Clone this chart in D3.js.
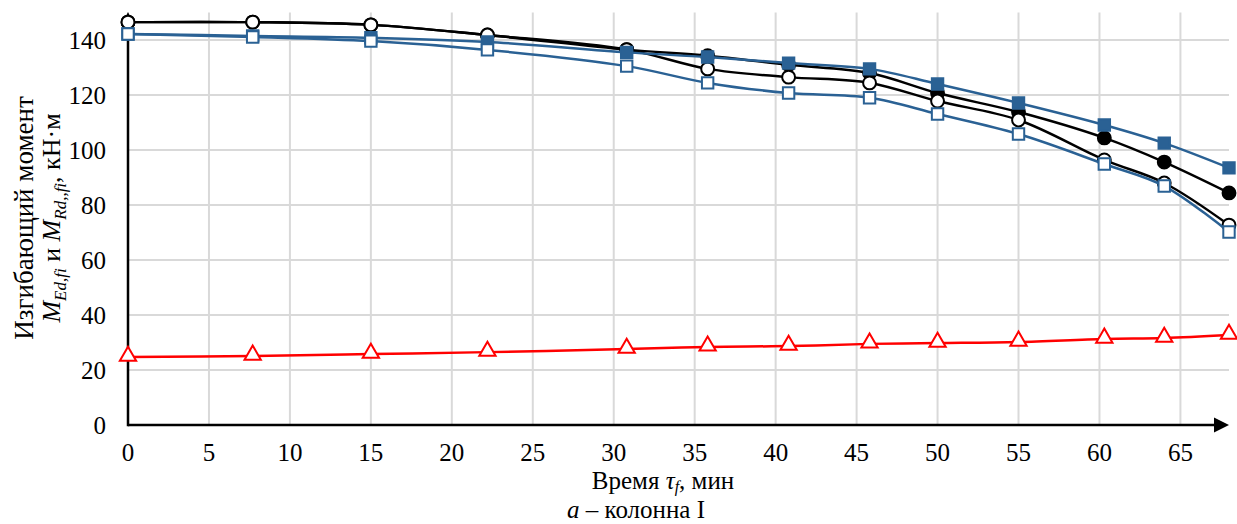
<!DOCTYPE html>
<html>
<head>
<meta charset="utf-8">
<script src="https://cdn.jsdelivr.net/npm/d3@7"></script>
<style>
  body { margin: 0; background: #fff; }
</style>
</head>
<body>
<div id="chart"></div>
<script>
// time points, min
var times = [0, 7.7, 15, 22.2, 30.8, 35.8, 40.8, 45.8, 50, 55, 60.3, 64, 68];

// bending moments, kN*m
var filledCircles = [146.5, 146.5, 145.5, 141.8, 136.5, 134.3, 131, 128, 120.7, 113.8, 104.4, 95.6, 84.4];
var openCircles   = [146.5, 146.5, 145.5, 141.8, 136.5, 129.5, 126.5, 124.4, 117.8, 110.9, 96.4, 88, 72.7];
var filledSquares = [142.2, 141.5, 140.8, 139.3, 135.5, 133.8, 131.6, 129.5, 124, 117.1, 109.1, 102.5, 93.5];
var openSquares   = [142.2, 141.1, 139.6, 136.4, 130.5, 124.4, 120.7, 119, 113.1, 105.8, 94.9, 86.9, 70.2];
var redTriangles  = [24.7, 25.1, 25.8, 26.5, 27.6, 28.4, 28.7, 29.5, 29.8, 30.2, 31.3, 31.6, 32.7];

var xTicks = [0, 5, 10, 15, 20, 25, 30, 35, 40, 45, 50, 55, 60, 65];
var yTicks = [0, 20, 40, 60, 80, 100, 120, 140];

var width = 1237, height = 524;
var blue = "#2a6194";
var serif = "'Liberation Serif', 'Times New Roman', Times, serif";

var svg = d3.select("#chart").append("svg")
    .attr("width", width)
    .attr("height", height)
    .attr("font-family", serif);

var x = d3.scaleLinear().domain([0, 68]).range([128, 1229]);
var y = d3.scaleLinear().domain([0, 150]).range([425, 12.5]);

// grid
svg.append("g").selectAll("line")
    .data(xTicks.slice(1))
    .enter().append("line")
    .attr("x1", function(d) { return x(d); })
    .attr("x2", function(d) { return x(d); })
    .attr("y1", y(150))
    .attr("y2", y(0))
    .attr("stroke", "#d9d9d9")
    .attr("stroke-width", 2);

svg.append("g").selectAll("line")
    .data(yTicks.slice(1))
    .enter().append("line")
    .attr("x1", x(0))
    .attr("x2", x(68))
    .attr("y1", function(d) { return y(d); })
    .attr("y2", function(d) { return y(d); })
    .attr("stroke", "#d9d9d9")
    .attr("stroke-width", 2);

// tick labels
svg.append("g").selectAll("text")
    .data(xTicks)
    .enter().append("text")
    .attr("x", function(d) { return x(d); })
    .attr("y", 461)
    .attr("text-anchor", "middle")
    .attr("font-size", 25)
    .text(function(d) { return d; });

svg.append("g").selectAll("text")
    .data(yTicks)
    .enter().append("text")
    .attr("x", 106)
    .attr("y", function(d) { return y(d) + 8.5; })
    .attr("text-anchor", "end")
    .attr("font-size", 25)
    .text(function(d) { return d; });

// axes with arrows
svg.append("line")
    .attr("x1", x(0)).attr("x2", 1215)
    .attr("y1", y(0)).attr("y2", y(0))
    .attr("stroke", "#000").attr("stroke-width", 2.5);
svg.append("path")
    .attr("d", "M1214," + (y(0) - 7.5) + "L1229," + y(0) + "L1214," + (y(0) + 7.5) + "Z")
    .attr("fill", "#000");
svg.append("line")
    .attr("x1", x(0)).attr("x2", x(0))
    .attr("y1", y(0) + 1.2).attr("y2", 24)
    .attr("stroke", "#000").attr("stroke-width", 2.5);
svg.append("path")
    .attr("d", "M" + (x(0) - 7) + ",26L" + x(0) + ",12L" + (x(0) + 7) + ",26Z")
    .attr("fill", "#000");

// series
var line = d3.line()
    .x(function(d) { return x(d[0]); })
    .y(function(d) { return y(d[1]); })
    .curve(d3.curveCatmullRom.alpha(0.5));

function pairs(vals) {
    return vals.map(function(v, i) { return [times[i], v]; });
}

var series = [
    {vals: filledCircles, color: "#000", marker: "circle", fill: "#000"},
    {vals: openCircles, color: "#000", marker: "circle", fill: "#fff"},
    {vals: filledSquares, color: blue, marker: "square", fill: blue},
    {vals: openSquares, color: blue, marker: "square", fill: "#fff"},
    {vals: redTriangles, color: "#ff0000", marker: "triangle", fill: "#fff"}
];

var symbols = {
    circle: d3.symbol().type(d3.symbolCircle).size(130),
    square: d3.symbol().type(d3.symbolSquare).size(130),
    triangle: d3.symbol().type(d3.symbolTriangle).size(115)
};

series.forEach(function(s) {
    var pts = pairs(s.vals);
    var g = svg.append("g");
    g.append("path")
        .datum(pts)
        .attr("d", line)
        .attr("fill", "none")
        .attr("stroke", s.color)
        .attr("stroke-width", 2.5);
    g.selectAll("path.m")
        .data(pts)
        .enter().append("path")
        .attr("class", "m")
        .attr("d", symbols[s.marker])
        .attr("transform", function(d) {
            var dy = s.marker == "triangle" ? -1 : 0;
            return "translate(" + x(d[0]) + "," + (y(d[1]) + dy) + ")";
        })
        .attr("fill", s.fill)
        .attr("stroke", s.color)
        .attr("stroke-width", 2);
});

// axis titles
var yt = svg.append("g").attr("transform", "translate(0,218) rotate(-90)");
yt.append("text")
    .attr("x", 0).attr("y", 33)
    .attr("text-anchor", "middle")
    .attr("font-size", 27)
    .text("Изгибающий момент");
var yt2 = yt.append("text")
    .attr("x", 0).attr("y", 60)
    .attr("text-anchor", "middle")
    .attr("font-size", 26);
yt2.append("tspan").attr("font-style", "italic").text("M");
yt2.append("tspan").attr("font-style", "italic").attr("font-size", 17).attr("dy", 6).text("Ed,fi");
yt2.append("tspan").attr("dy", -6).text(" и ");
yt2.append("tspan").attr("font-style", "italic").text("M");
yt2.append("tspan").attr("font-style", "italic").attr("font-size", 17).attr("dy", 6).text("Rd,,fi");
yt2.append("tspan").attr("dy", -6).text(", кН·м");

var xt = svg.append("text")
    .attr("x", 663).attr("y", 489)
    .attr("text-anchor", "middle")
    .attr("font-size", 25);
xt.append("tspan").text("Время ");
xt.append("tspan").attr("font-style", "italic").text("τ");
xt.append("tspan").attr("font-style", "italic").attr("font-size", 16).attr("dy", 3).text("f");
xt.append("tspan").attr("dy", -3).text(", мин");

var cap = svg.append("text")
    .attr("x", 636).attr("y", 518)
    .attr("text-anchor", "middle")
    .attr("font-size", 25);
cap.append("tspan").attr("font-style", "italic").text("a");
cap.append("tspan").text(" – колонна I");
</script>
</body>
</html>
